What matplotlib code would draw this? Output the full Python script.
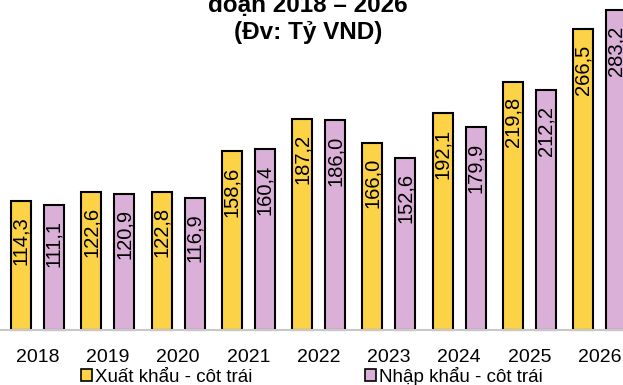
import matplotlib.pyplot as plt
import numpy as np
from matplotlib.patches import Patch

plt.rcParams['font.family'] = ['Liberation Sans', 'DejaVu Sans']

# ---------------------------------------------------------
# DATA
# ---------------------------------------------------------
years = ["2018", "2019", "2020", "2021", "2022", "2023", "2024", "2025", "2026"]
exports = [114.3, 122.6, 122.8, 158.6, 187.2, 166.0, 192.1, 219.8, 266.5]
imports = [111.1, 120.9, 116.9, 160.4, 186.0, 152.6, 179.9, 212.2, 283.2]

yellow = "#FCD247"
pink = "#DBB0D8"

# ---------------------------------------------------------
# PLOT
# ---------------------------------------------------------
fig = plt.figure(figsize=(6.23, 3.85), dpi=100)
ax = fig.add_axes([0, 0.1416, 1, 0.8813])

x = np.arange(len(years))
w = 0.285
off = 0.235

b1 = ax.bar(x - off, exports, w, color=yellow, edgecolor="black", linewidth=1.5, clip_on=False)
b2 = ax.bar(x + off, imports, w, color=pink, edgecolor="black", linewidth=1.5, clip_on=False)

def fmt(v):
    return f"{v:.1f}".replace(".", ",")

for bars, vals in [(b1, exports), (b2, imports)]:
    for rect, v in zip(bars, vals):
        ax.annotate(fmt(v), (rect.get_x() + rect.get_width() / 2, v),
                    xytext=(0, -11), textcoords="offset points",
                    rotation=90, ha="center", va="top", fontsize=14.5,
                    annotation_clip=False)

ax.set_xlim(-0.533, 8.33)
ax.set_ylim(0, 300)
ax.set_xticks(x)
ax.set_xticklabels(years, fontsize=14)
ax.tick_params(axis="x", length=0, pad=13.5)
ax.set_yticks([])
for s in ["top", "left", "right"]:
    ax.spines[s].set_visible(False)
ax.spines["bottom"].set_color("#C8C8C8")
ax.spines["bottom"].set_linewidth(1.5)

# title (top line cut off in the source)
fig.text(0.494, 1 - 12 / 385, "đoạn 2018 – 2026", ha="center", va="baseline",
         fontsize=17.5, fontweight="bold")
fig.text(0.494, 1 - 39 / 385, "(Đv: Tỷ VND)", ha="center", va="baseline",
         fontsize=17.5, fontweight="bold")

handles = [Patch(facecolor=yellow, edgecolor="black", linewidth=1.2),
           Patch(facecolor=pink, edgecolor="black", linewidth=1.2)]
fig.legend(handles, ["Xuất khẩu - côt trái", "Nhập khẩu - côt trái"],
           loc="center", bbox_to_anchor=(0.5, 1 - 376 / 385), ncol=2,
           frameon=False, fontsize=13.5, handlelength=0.6, handleheight=0.6,
           handletextpad=0.15, columnspacing=6.0, borderpad=0)

fig.savefig("out.png", dpi=100)
